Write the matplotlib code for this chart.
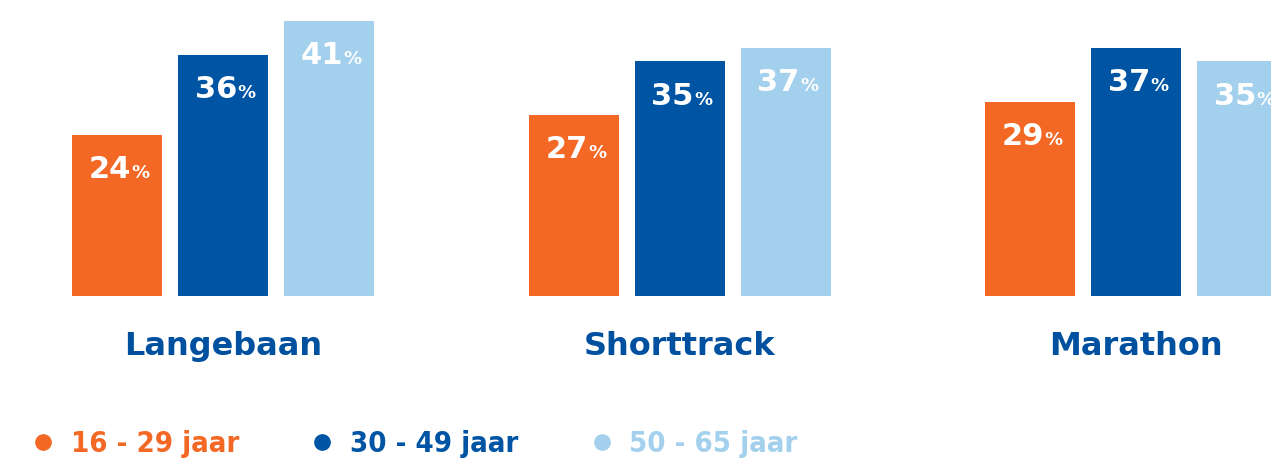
import matplotlib
matplotlib.use("Agg")
import matplotlib.pyplot as plt
from matplotlib.lines import Line2D
import numpy as np

categories = ["Langebaan", "Shorttrack", "Marathon"]
age_groups = ["16 - 29 jaar", "30 - 49 jaar", "50 - 65 jaar"]
values_16_29 = [24, 27, 29]
values_30_49 = [36, 35, 37]
values_50_65 = [41, 37, 35]

colors = ["#F36824", "#0054A4", "#A3D0EC"]
label_blue = "#0050A0"

plt.rcParams["font.family"] = ["DejaVu Sans"]

fig = plt.figure(figsize=(12.71, 4.61), dpi=100)
ax = fig.add_axes([0, 0, 1, 1])

x = np.arange(len(categories))
width = 90 / 456.5
step = 106 / 456.5

series = [values_16_29, values_30_49, values_50_65]
for i, (vals, col) in enumerate(zip(series, colors)):
    pos = x + (i - 1) * step
    ax.bar(pos, vals, width=width, color=col, linewidth=0)
    for px, v in zip(pos, vals):
        ax.annotate(str(v), xy=(px, v), xytext=(10, -31), textcoords="offset points",
                    ha="right", va="baseline", color="white", fontsize=22, fontweight="bold")
        ax.annotate("%", xy=(px, v), xytext=(10.5, -31), textcoords="offset points",
                    ha="left", va="baseline", color="white", fontsize=13, fontweight="bold")

for xi, cat in zip(x, categories):
    ax.text(xi, -7.6, cat, ha="center", va="center", color=label_blue,
            fontsize=23, fontweight="bold")

handles = [Line2D([], [], marker="o", linestyle="none", markersize=11,
                  markerfacecolor=c, markeredgecolor=c) for c in colors]
leg = fig.legend(handles, age_groups, ncol=3, loc="center left",
                 bbox_to_anchor=(0.011, 1 - 444 / 461), frameon=False, borderpad=0,
                 handletextpad=0.45, columnspacing=2.35, handlelength=1.0,
                 prop={"family": ["DejaVu Sans Condensed", "DejaVu Sans"],
                       "stretch": "condensed", "weight": "bold", "size": 21})
for t, c in zip(leg.get_texts(), colors):
    t.set_color(c)

ax.set_xlim(-223 / 456.5, (1271 - 223) / 456.5)
ax.set_ylim(-165 / 6.7, 296 / 6.7)
ax.axis("off")

fig.savefig("out.png", dpi=100)
